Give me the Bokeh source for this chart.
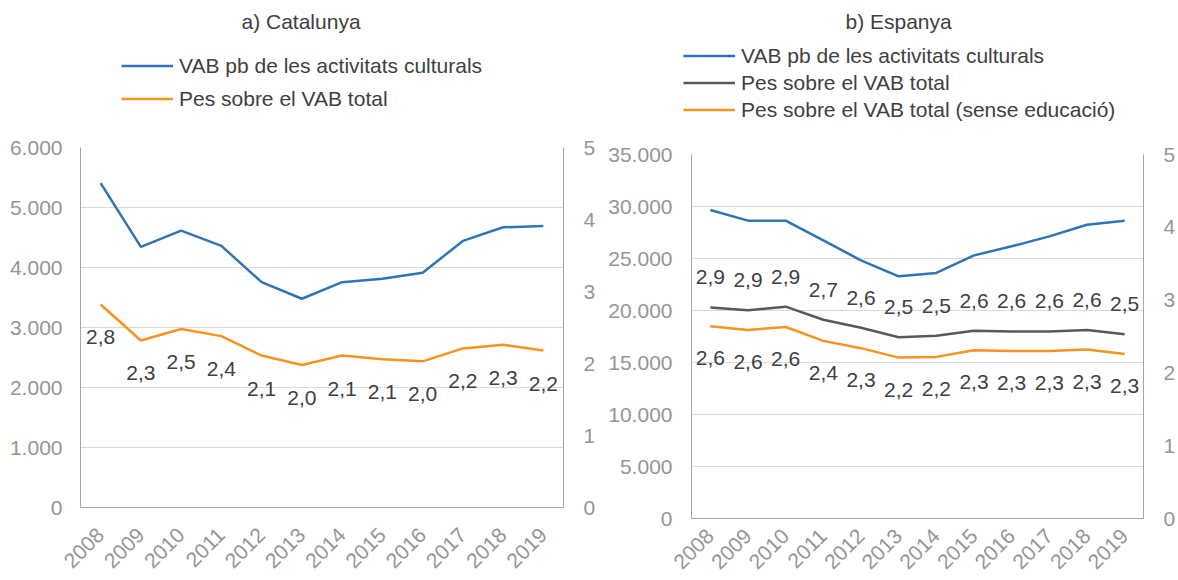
import math
from bokeh.plotting import figure
from bokeh.models import (Range1d, LinearAxis, FactorRange, FixedTicker,
                          Legend, LegendItem, Label)
from bokeh.layouts import row, column
from bokeh.embed import file_html
from bokeh.resources import INLINE
from bokeh.core.properties import value

# ---------------- data ----------------
years = ["2008", "2009", "2010", "2011", "2012", "2013",
         "2014", "2015", "2016", "2017", "2018", "2019"]

# a) Catalunya
cat_vab = [5407, 4343, 4615, 4360, 3756, 3479, 3756, 3812, 3911, 4443, 4670, 4693]
cat_pes = [2.82, 2.32, 2.48, 2.38, 2.11, 1.98, 2.11, 2.06, 2.03, 2.21, 2.26, 2.18]

# b) Espanya
esp_vab = [29660, 28640, 28640, 26740, 24820, 23285, 23610, 25300, 26170, 27130, 28250, 28635]
esp_pes = [2.90, 2.86, 2.91, 2.73, 2.62, 2.49, 2.51, 2.58, 2.57, 2.57, 2.59, 2.53]
esp_pes_se = [2.64, 2.59, 2.63, 2.44, 2.34, 2.21, 2.22, 2.31, 2.30, 2.30, 2.32, 2.26]

cat_ticks = [0, 1000, 2000, 3000, 4000, 5000, 6000]
cat_tick_labels = ["0", "1.000", "2.000", "3.000", "4.000", "5.000", "6.000"]
esp_ticks = [0, 5000, 10000, 15000, 20000, 25000, 30000, 35000]
esp_tick_labels = ["0", "5.000", "10.000", "15.000", "20.000", "25.000", "30.000", "35.000"]
pct_ticks = [0, 1, 2, 3, 4, 5]
pct_tick_labels = ["0", "1", "2", "3", "4", "5"]

series_names = ["VAB pb de les activitats culturals",
                "Pes sobre el VAB total",
                "Pes sobre el VAB total (sense educació)"]
titles = ["a) Catalunya", "b) Espanya"]

# ---------------- style ----------------
FONT = "Liberation Sans"
FS = "21px"
BLUE = "#2E75B6"
ORANGE = "#F7931E"
GREY = "#595959"
TXT = "#404040"
TICK = "#959595"
AXL = "#a6a6a6"
GRID = "#d9d9d9"


def fmt(v):
    return f"{v:.1f}".replace(".", ",")


def make_panel(width, height, bl, br, bt, bb, ymax, ticks, tick_labels,
               lstand, rstand, xstand):
    p = figure(width=width, height=height,
               x_range=FactorRange(factors=years, range_padding=0),
               y_range=Range1d(0, ymax),
               output_backend="svg", toolbar_location=None,
               min_border_left=bl, min_border_right=br,
               min_border_top=bt, min_border_bottom=bb)
    p.frame_align = False
    p.extra_y_ranges = {"pct": Range1d(0, 5)}
    p.outline_line_color = None
    p.background_fill_color = "white"
    p.border_fill_color = "white"
    p.xgrid.visible = False
    p.ygrid.grid_line_color = GRID
    p.ygrid.grid_line_width = 1
    p.ygrid.ticker = FixedTicker(ticks=ticks)

    ya = p.yaxis[0]
    ya.ticker = FixedTicker(ticks=ticks)
    ya.major_label_overrides = {t: l for t, l in zip(ticks, tick_labels)}
    ya.major_tick_out = 0
    ya.major_tick_in = 0
    ya.minor_tick_out = 0
    ya.minor_tick_in = 0
    ya.axis_line_color = AXL
    ya.major_label_text_font = FONT
    ya.major_label_text_font_size = FS
    ya.major_label_text_color = TICK
    ya.major_label_standoff = lstand

    ra = LinearAxis(y_range_name="pct",
                    ticker=FixedTicker(ticks=pct_ticks))
    ra.major_label_overrides = {t: l for t, l in zip(pct_ticks, pct_tick_labels)}
    ra.major_tick_out = 0
    ra.major_tick_in = 0
    ra.minor_tick_out = 0
    ra.minor_tick_in = 0
    ra.axis_line_color = AXL
    ra.major_label_text_font = FONT
    ra.major_label_text_font_size = FS
    ra.major_label_text_color = TICK
    ra.major_label_standoff = rstand
    p.add_layout(ra, "right")

    xa = p.xaxis[0]
    xa.major_tick_out = 0
    xa.major_tick_in = 0
    xa.axis_line_color = AXL
    xa.major_label_orientation = math.pi / 4
    xa.major_label_text_font = FONT
    xa.major_label_text_font_size = FS
    xa.major_label_text_color = TICK
    xa.major_label_text_line_height = 0.6
    xa.major_label_standoff = xstand
    return p


def make_header(width, height, title, title_x, names, colors, leg_x, leg_y, gh):
    h = figure(width=width, height=height,
               x_range=Range1d(0, width), y_range=Range1d(height, 0),
               x_axis_location=None, y_axis_location=None,
               output_backend="svg", toolbar_location=None,
               min_border_left=0, min_border_right=0,
               min_border_top=0, min_border_bottom=0)
    h.frame_align = False
    h.grid.visible = False
    h.outline_line_color = None
    h.background_fill_color = "white"
    h.border_fill_color = "white"
    h.add_layout(Label(x=title_x, y=20.7, text=title, text_baseline="middle",
                       text_align="left", text_font=FONT, text_font_size=FS,
                       text_color=TXT))
    items = []
    for name, col in zip(names, colors):
        # legend-only renderer (no visible points)
        r = h.line(x=[math.nan, math.nan], y=[math.nan, math.nan],
                   line_color=col, line_width=2.5)
        items.append(LegendItem(label=name, renderers=[r]))
    leg = Legend(items=items, location=(leg_x, leg_y), orientation="vertical")
    leg.background_fill_alpha = 0
    leg.border_line_color = None
    leg.padding = 0
    leg.margin = 0
    leg.spacing = 0
    leg.glyph_width = 52
    leg.glyph_height = gh
    leg.label_height = gh
    leg.label_standoff = 6
    leg.label_text_font = FONT
    leg.label_text_font_size = FS
    leg.label_text_color = TXT
    h.add_layout(leg, "center")
    return h


def add_labels(p, vals, offset):
    p.text(x=years, y=vals, text=[fmt(v) for v in vals], y_range_name="pct",
           y_offset=offset, text_align="center", text_baseline="middle",
           text_font=value(FONT), text_font_size=FS, text_color=TXT)


H = 580
# ---------------- panel a) Catalunya ----------------
W1 = 602
HT1 = 135
h1 = make_header(W1, HT1, titles[0], 241, series_names[:2], [BLUE, ORANGE],
                 121, 20, 33)
p1 = make_panel(W1, H - HT1, 80, W1 - 563, 12, 73, 6000, cat_ticks, cat_tick_labels,
                18, 20, 24)
p1.line(years, cat_vab, line_color=BLUE, line_width=2.5)
p1.line(years, cat_pes, line_color=ORANGE, line_width=2.5, y_range_name="pct")
add_labels(p1, cat_pes, 33)

# ---------------- panel b) Espanya ----------------
W2 = 1178 - W1
HT2 = 142
h2 = make_header(W2, HT2, titles[1], 845 - W1, series_names, [BLUE, GREY, ORANGE],
                 683 - W1, 19, 27)
p2 = make_panel(W2, H - HT2, 691 - W1, 34, 12, 62, 35000, esp_ticks, esp_tick_labels,
                19, 20, 14)
p2.line(years, esp_vab, line_color=BLUE, line_width=2.5)
p2.line(years, esp_pes, line_color=GREY, line_width=2.5, y_range_name="pct")
p2.line(years, esp_pes_se, line_color=ORANGE, line_width=2.5, y_range_name="pct")
add_labels(p2, esp_pes, -30)
add_labels(p2, esp_pes_se, 32)

layout = row(column(h1, p1), column(h2, p2))
open("out.html", "w").write(file_html(layout, INLINE))
